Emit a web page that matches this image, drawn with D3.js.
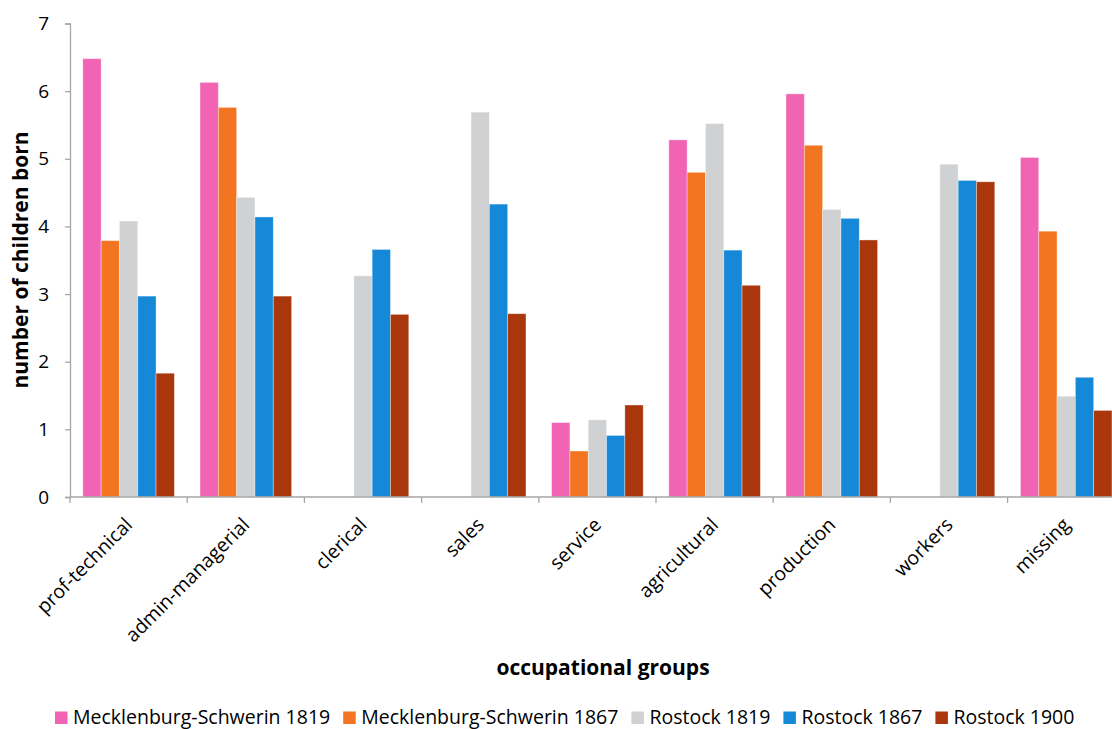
<!DOCTYPE html>
<html>
<head>
<meta charset="utf-8">
<script src="https://cdn.jsdelivr.net/npm/d3@7"></script>
<style>
  html, body { margin: 0; padding: 0; background: #fff; }
  svg { display: block; }
  text { font-family: "Open Sans", Lato, sans-serif; fill: #000; }
</style>
</head>
<body>
<svg id="chart" width="1112" height="729"></svg>
<script>
// Occupational groups on the x axis
const categories = ["prof-technical", "admin-managerial", "clerical", "sales", "service",
                    "agricultural", "production", "workers", "missing"];

// Series names (legend order)
const seriesNames = ["Mecklenburg-Schwerin 1819", "Mecklenburg-Schwerin 1867",
                     "Rostock 1819", "Rostock 1867", "Rostock 1900"];

// Mean number of children born, per occupational group (null = no data)
const mecklenburg1819 = [6.48, 6.13, null, null, 1.10, 5.28, 5.96, null, 5.02];
const mecklenburg1867 = [3.79, 5.76, null, null, 0.68, 4.80, 5.20, null, 3.93];
const rostock1819     = [4.08, 4.43, 3.27, 5.69, 1.14, 5.52, 4.25, 4.92, 1.49];
const rostock1867     = [2.97, 4.14, 3.66, 4.33, 0.91, 3.65, 4.12, 4.68, 1.77];
const rostock1900     = [1.83, 2.97, 2.70, 2.71, 1.36, 3.13, 3.80, 4.66, 1.28];

const yTicks = [0, 1, 2, 3, 4, 5, 6, 7];

const seriesValues = [mecklenburg1819, mecklenburg1867, rostock1819, rostock1867, rostock1900];
const colors = ["#F164B4", "#F47521", "#D0D1D3", "#1589D8", "#AA360C"];

const svg = d3.select("#chart");

// Plot area
const plotLeft = 70, plotBottom = 497, plotTop = 23.5;
const step = 117.2;

const x = d3.scaleBand()
  .domain(categories)
  .range([plotLeft, plotLeft + step * categories.length])
  .paddingInner(0).paddingOuter(0);

const xs = d3.scaleBand()
  .domain(seriesNames)
  .range([0, x.bandwidth()])
  .paddingInner(0).paddingOuter(0.7);

const y = d3.scaleLinear().domain([0, 7]).range([plotBottom, plotTop]);

const color = d3.scaleOrdinal().domain(seriesNames).range(colors);

// Bars
const rows = categories.map((c, i) => ({
  cat: c,
  vals: seriesNames.map((s, j) => ({ series: s, value: seriesValues[j][i] }))
}));

const groups = svg.append("g").selectAll("g")
  .data(rows).join("g")
  .attr("transform", d => `translate(${x(d.cat)},0)`);

groups.selectAll("rect")
  .data(d => d.vals.filter(v => v.value != null))
  .join("rect")
  .attr("x", d => xs(d.series))
  .attr("width", xs.bandwidth())
  .attr("y", d => y(d.value))
  .attr("height", d => y(0) - y(d.value))
  .attr("fill", d => color(d.series))
  .attr("stroke", "#fff")
  .attr("stroke-opacity", 0.45)
  .attr("stroke-width", 0.8);

// Y axis
const yAxis = svg.append("g")
  .attr("transform", `translate(${plotLeft},0)`)
  .call(d3.axisLeft(y).tickValues(yTicks).tickFormat(d3.format("d")).tickSize(5).tickPadding(16));
yAxis.select(".domain").attr("stroke", "#A6A6A6").attr("stroke-width", 1.3);
yAxis.selectAll(".tick line").attr("stroke", "#A6A6A6").attr("stroke-width", 1.3);
yAxis.selectAll(".tick text")
  .style("font-family", "'Open Sans', Lato, sans-serif")
  .style("font-size", "19px")
  .attr("fill", "#000");

// X axis: line with ticks at group boundaries
const xAxis = svg.append("g");
xAxis.append("line")
  .attr("x1", plotLeft).attr("x2", x.range()[1])
  .attr("y1", plotBottom).attr("y2", plotBottom)
  .attr("stroke", "#A6A6A6").attr("stroke-width", 1.6);
const boundaries = categories.map(c => x(c)).concat([x.range()[1]]);
xAxis.selectAll("line.tk")
  .data(boundaries).join("line")
  .attr("class", "tk")
  .attr("x1", d => d).attr("x2", d => d)
  .attr("y1", plotBottom).attr("y2", plotBottom + 6)
  .attr("stroke", "#A6A6A6").attr("stroke-width", 1.3);

// Rotated category labels
xAxis.selectAll("text.cat")
  .data(categories).join("text")
  .attr("class", "cat")
  .attr("text-anchor", "end")
  .attr("transform", d => `translate(${x(d) + x.bandwidth() / 2 + 5},${plotBottom + 29}) rotate(-45)`)
  .style("font-size", "19.5px")
  .text(d => d);

// Axis titles
svg.append("text")
  .attr("transform", "translate(28,260) rotate(-90)")
  .attr("text-anchor", "middle")
  .style("font-size", "21px")
  .style("font-weight", "bold")
  .text("number of children born");

svg.append("text")
  .attr("x", 603).attr("y", 675)
  .attr("text-anchor", "middle")
  .style("font-size", "21px")
  .style("font-weight", "bold")
  .text("occupational groups");

// Legend
const legend = svg.append("g");
let lx = 55;
seriesNames.forEach((s, i) => {
  legend.append("rect")
    .attr("x", lx).attr("y", 711.5)
    .attr("width", 12.5).attr("height", 12.5)
    .attr("fill", colors[i]);
  const t = legend.append("text")
    .attr("x", lx + 18).attr("y", 724)
    .style("font-size", "19.5px")
    .text(s);
  lx += 18 + t.node().getComputedTextLength() + 13;
});
</script>
</body>
</html>
